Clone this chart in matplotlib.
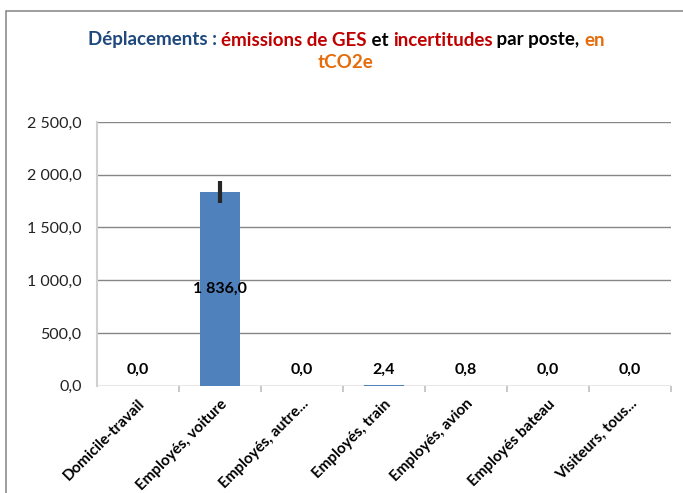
import matplotlib
matplotlib.use("Agg")
import matplotlib.pyplot as plt
from matplotlib.patches import Rectangle
from matplotlib.ticker import FuncFormatter, MultipleLocator

# données
postes = ["Domicile-travail", "Employés, voiture", "Employés, autre...",
          "Employés, train", "Employés, avion", "Employés bateau",
          "Visiteurs, tous..."]
emissions = [0.0, 1836.0, 0.0, 2.4, 0.8, 0.0, 0.0]
incertitudes = [0.0, 100.0, 0.0, 0.0, 0.0, 0.0, 0.0]

BLEU, ROUGE, NOIR, ORANGE = "#1F497D", "#C00000", "#000000", "#E46C0A"
titre = [
    [("Déplacements : ", BLEU), ("émissions de GES", ROUGE), (" et ", NOIR),
     ("incertitudes", ROUGE), (" par poste, ", NOIR), ("en", ORANGE)],
    [("tCO2e", ORANGE)],
]

plt.rcParams["font.family"] = ["Lato", "DejaVu Sans"]

W, H = 683, 493
fig = plt.figure(figsize=(W / 100, H / 100), dpi=100, facecolor="white")

# cadre du graphique
fig.patches.append(Rectangle((6 / W, -0.1), 1.2, (H - 11) / H + 0.1,
                             transform=fig.transFigure, fill=False,
                             edgecolor="#8C8C8C", lw=1.2))

ax = fig.add_axes([97 / W, (H - 385.7) / H, (671 - 97) / W, (385.7 - 122) / H])
x = list(range(len(postes)))
ax.bar(x, emissions, width=0.49, color="#4F81BD", zorder=3)
ax.errorbar(x, emissions, yerr=incertitudes, fmt="none", ecolor="#262626",
            elinewidth=3, capsize=0, zorder=4)

ax.set_xlim(-0.5, len(postes) - 0.5)
ax.set_ylim(0, 2500)
ax.yaxis.set_major_locator(MultipleLocator(500))
ax.yaxis.set_major_formatter(FuncFormatter(
    lambda v, p: f"{v:,.1f}".replace(",", " ").replace(".", ",")))
ax.grid(True, axis="y", color="#868686", lw=1, zorder=0)
ax.set_axisbelow(True)

for s in ["top", "right", "bottom"]:
    ax.spines[s].set_visible(False)
ax.spines["left"].set_color("#D0D0D0")
ax.spines["left"].set_linewidth(1.5)

ax.tick_params(axis="y", length=0, pad=11, labelsize=11.5, labelcolor="#222222")
ax.set_xticks([i + 0.5 for i in x[:-1]] + [len(postes) - 0.5], minor=True)
ax.tick_params(axis="x", which="minor", length=4, color="#BFBFBF", width=1.2)
ax.set_xticks(x)
ax.set_xticklabels(postes, rotation=45, ha="right", rotation_mode="anchor",
                   fontsize=11, fontweight="bold")
ax.tick_params(axis="x", which="major", length=0, pad=8)

# étiquettes de données
for i, v in enumerate(emissions):
    lbl = f"{v:,.1f}".replace(",", " ").replace(".", ",")
    if v > 200:
        ax.text(i, v / 2, lbl, ha="center", va="center", fontsize=11.5,
                fontweight="bold", zorder=5)
    else:
        ax.annotate(lbl, (i, 0), xytext=(0, 11.5), textcoords="offset points",
                    ha="center", va="center", fontsize=11.5, fontweight="bold")

# titre multicolore
r = fig.canvas.get_renderer()
cx = 346
for ligne, ypx in zip(titre, [40, 62]):
    textes = [fig.text(0, 1 - ypx / H, t, color=c, fontsize=13.5,
                       fontweight="bold", va="center", ha="left")
              for t, c in ligne]
    larg = [t.get_window_extent(r).width for t in textes]
    x0 = cx - sum(larg) / 2
    for t, w in zip(textes, larg):
        t.set_x(x0 / W)
        x0 += w

fig.savefig("out.png", dpi=100)
